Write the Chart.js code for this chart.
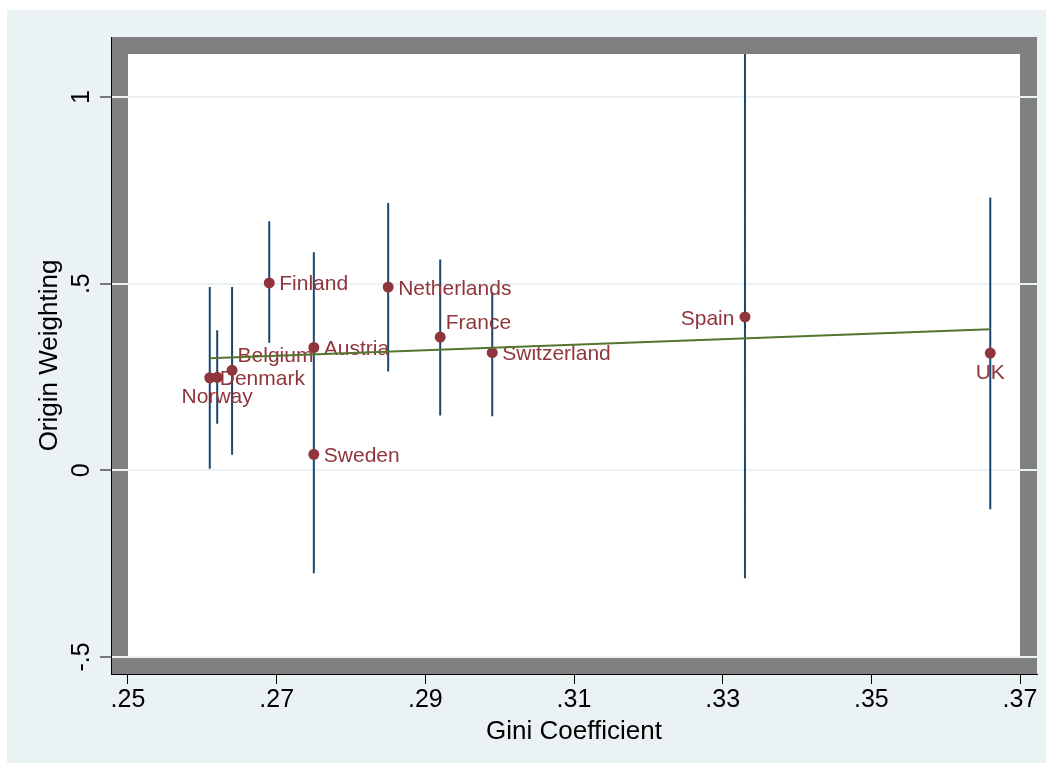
<!DOCTYPE html>
<html>
<head>
<meta charset="utf-8">
<script src="https://cdn.jsdelivr.net/npm/chart.js@4"></script>
<style>
html,body{margin:0;padding:0;background:#fff;}
canvas{display:block;}
</style>
</head>
<body>
<canvas id="c" width="1052" height="771"></canvas>
<script>
// ---- data ----
const countries = ['Denmark','Norway','Belgium','Finland','Austria','Sweden','Netherlands','France','Switzerland','Spain','UK'];
const gini      = [0.261, 0.262, 0.264, 0.269, 0.275, 0.275, 0.285, 0.292, 0.299, 0.333, 0.366];
const weighting = [0.248, 0.249, 0.268, 0.502, 0.329, 0.043, 0.491, 0.357, 0.315, 0.411, 0.314];
const ciLow     = [0.004, 0.125, 0.042, 0.342, 0.074, -0.276, 0.265, 0.147, 0.145, -0.289, -0.104];
const ciHigh    = [0.491, 0.375, 0.491, 0.667, 0.584, 0.362, 0.716, 0.565, 0.478, 1.12, 0.731];
const fitX      = [0.261, 0.366];
const fitY      = [0.300, 0.378];
const xTicks      = [0.25, 0.27, 0.29, 0.31, 0.33, 0.35, 0.37];
const xTickLabels = ['.25', '.27', '.29', '.31', '.33', '.35', '.37'];
const yTicks      = [-0.5, 0, 0.5, 1];
const yTickLabels = ['-.5', '0', '.5', '1'];

// ---- style ----
const FONT = '"Liberation Sans", Arial, Helvetica, sans-serif';
const MAROON = '#90353B', NAVY = '#1A476F', GREEN = '#55752F', BG = '#EAF2F3', FRAME = '#808080';
const FRAME_W = 17;
// label placement (Stata clock positions)
const labelClock = {Denmark:3, Norway:6, Belgium:2, Finland:3, Austria:3, Sweden:3, Netherlands:3, France:2, Switzerland:3, Spain:9, UK:6};
const clockOffsets = {
  3: {dx: 10, dy: 7.5, align: 'left'},
  6: {dx: 0, dy: 25.5, align: 'center'},
  9: {dx: -10.5, dy: 8, align: 'right'},
  2: {dx: 5.5, dy: -8, align: 'left'}
};

// axis range (ticks span the inner white area; frame adds 17px each side)
const xPxPerUnit = 892 / 0.12, yPxPerUnit = 560 / 1.5;
const xMin = 0.25 - FRAME_W / xPxPerUnit, xMax = 0.37 + FRAME_W / xPxPerUnit;
const yMin = -0.5 - FRAME_W / yPxPerUnit, yMax = 1 + 60 / yPxPerUnit;

const ciData = [];
gini.forEach((g, i) => {
  ciData.push({x: g, y: ciLow[i]}, {x: g, y: ciHigh[i]}, {x: g, y: null});
});
const pointData = gini.map((g, i) => ({x: g, y: weighting[i]}));
const fitData = fitX.map((x, i) => ({x: x, y: fitY[i]}));

const bgPlugin = {
  id: 'bg',
  beforeDraw(chart) {
    const {ctx, chartArea: a} = chart;
    ctx.save();
    ctx.fillStyle = '#fff';
    ctx.fillRect(0, 0, chart.width, chart.height);
    ctx.fillStyle = BG;
    ctx.fillRect(7, 10, 1039, 753);
    ctx.fillStyle = FRAME;
    ctx.fillRect(a.left, a.top, a.right - a.left, a.bottom - a.top);
    ctx.fillStyle = '#fff';
    ctx.fillRect(a.left + FRAME_W, a.top + FRAME_W, a.right - a.left - 2 * FRAME_W, a.bottom - a.top - 2 * FRAME_W);
    ctx.restore();
  }
};

const labelPlugin = {
  id: 'pointLabels',
  afterDatasetDraw(chart, args) {
    if (args.index !== 1) return;
    const {ctx} = chart;
    const xs = chart.scales.x, ys = chart.scales.y;
    ctx.save();
    ctx.font = '21px ' + FONT;
    ctx.fillStyle = MAROON;
    ctx.textBaseline = 'alphabetic';
    countries.forEach((name, i) => {
      const o = clockOffsets[labelClock[name]];
      const px = xs.getPixelForValue(gini[i]);
      const py = ys.getPixelForValue(weighting[i]);
      ctx.textAlign = o.align;
      ctx.fillText(name, px + o.dx, py + o.dy);
    });
    ctx.restore();
  }
};

const yLabelPlugin = {
  id: 'yTickLabels',
  afterDraw(chart) {
    const {ctx} = chart;
    const ys = chart.scales.y;
    ctx.save();
    ctx.font = '25px ' + FONT;
    ctx.fillStyle = '#000';
    ctx.textAlign = 'center';
    ctx.textBaseline = 'alphabetic';
    yTicks.forEach((v, i) => {
      const py = ys.getPixelForValue(v);
      ctx.save();
      ctx.translate(ys.right - 22, py);
      ctx.rotate(-Math.PI / 2);
      ctx.fillText(yTickLabels[i], 0, 0);
      ctx.restore();
    });
    ctx.restore();
  }
};

new Chart(document.getElementById('c').getContext('2d'), {
  type: 'scatter',
  data: {
    datasets: [
      {
        type: 'line', label: 'Fitted values', data: fitData, order: 0,
        borderColor: GREEN, borderWidth: 2, pointRadius: 0, fill: false, tension: 0
      },
      {
        type: 'scatter', label: 'Origin Weighting', data: pointData, order: 1,
        pointRadius: 5.5, pointHoverRadius: 5.5, backgroundColor: MAROON, borderColor: MAROON, borderWidth: 0
      },
      {
        type: 'line', label: 'CI', data: ciData, order: 2, spanGaps: false,
        borderColor: NAVY, borderWidth: 2, pointRadius: 0, fill: false, tension: 0,
        clip: {left: -FRAME_W, top: -FRAME_W, right: -FRAME_W, bottom: -FRAME_W}
      }
    ]
  },
  options: {
    responsive: false,
    animation: false,
    devicePixelRatio: 1,
    layout: {padding: {left: 0, top: 37, right: 15, bottom: 0}},
    plugins: {legend: {display: false}, tooltip: {enabled: false}},
    scales: {
      x: {
        type: 'linear', position: 'bottom', min: xMin, max: xMax, bounds: 'data',
        afterBuildTicks: s => { s.ticks = xTicks.map(v => ({value: v})); },
        afterFit: s => { s.height = 97; },
        ticks: {
          padding: 1, color: '#000', font: {family: FONT, size: 25},
          maxRotation: 0, minRotation: 0, autoSkip: false,
          callback: v => xTickLabels[xTicks.findIndex(t => Math.abs(t - v) < 1e-9)]
        },
        grid: {display: true, drawOnChartArea: false, drawTicks: true, tickLength: 10, tickColor: '#000', tickWidth: 1, color: '#000'},
        border: {display: true, color: '#000', width: 1},
        title: {display: true, text: 'Gini Coefficient', color: '#000', font: {family: FONT, size: 26}, padding: {top: 0, bottom: 24}}
      },
      y: {
        type: 'linear', position: 'left', min: yMin, max: yMax, bounds: 'data',
        afterBuildTicks: s => { s.ticks = yTicks.map(v => ({value: v})); },
        afterFit: s => { s.width = 111; },
        ticks: {display: false},
        grid: {display: true, drawOnChartArea: true, drawTicks: true, tickLength: 11, tickColor: '#000', tickWidth: 1, color: BG, lineWidth: 2},
        border: {display: true, color: '#000', width: 1},
        title: {display: true, text: 'Origin Weighting', color: '#000', font: {family: FONT, size: 26}, padding: {top: 34, bottom: 0}}
      }
    }
  },
  plugins: [bgPlugin, labelPlugin, yLabelPlugin]
});
</script>
</body>
</html>
